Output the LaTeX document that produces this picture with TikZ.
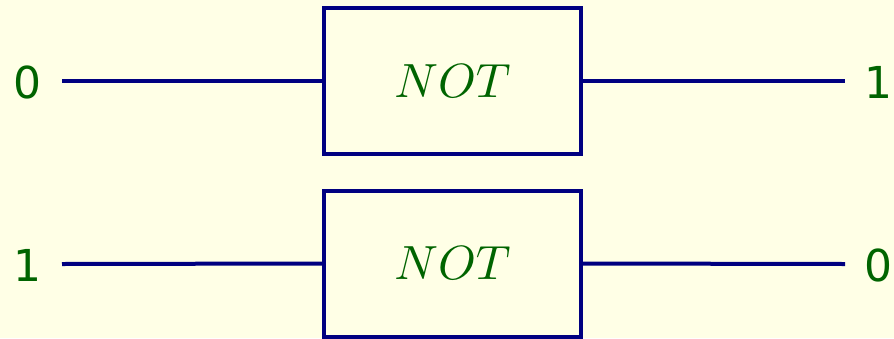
\documentclass[tikz,border=0pt]{standalone}
\usepackage{graphicx}
\usepackage{fontspec}
\newfontfamily\digfont{DejaVu Sans}
\definecolor{bgc}{RGB}{255,255,230}
\definecolor{navyc}{RGB}{0,0,128}
\definecolor{greenc}{RGB}{0,100,0}
\newcommand{\gatelabel}{\scalebox{4.8}{$NOT$}}
\begin{document}
\begin{tikzpicture}[x=1pt,y=-1pt,
  gate/.style={draw=navyc,line width=4pt,minimum width=257pt,minimum height=146pt,inner sep=0pt,
    text=greenc},
  wire/.style={draw=navyc,line width=4pt},
  bit/.style={text=greenc,font=\digfont\fontsize{44}{46}\selectfont,inner sep=0pt}]
\fill[bgc] (0,0) rectangle (894,338);
\useasboundingbox (0,0) rectangle (894,338);
\node[gate] (g1) at (452.5,81) {\gatelabel};
\node[gate] (g2) at (452.5,263.5) {\gatelabel};
\coordinate (a1) at (62,81);
\coordinate (b1) at (845,81);
\coordinate (a2) at (62,264);
\coordinate (b2) at (845,264);
\draw[wire] (a1) -- (g1.west);
\draw[wire] (g1.east) -- (b1);
\draw[wire] (a2) -- (g2.west);
\draw[wire] (g2.east) -- (b2);
\node[bit] (i1) at (27.5,82) {0};
\node[bit] (o1) at (878,82) {1};
\node[bit] (i2) at (27.5,265) {1};
\node[bit] (o2) at (878,265) {0};
\end{tikzpicture}
\end{document}
